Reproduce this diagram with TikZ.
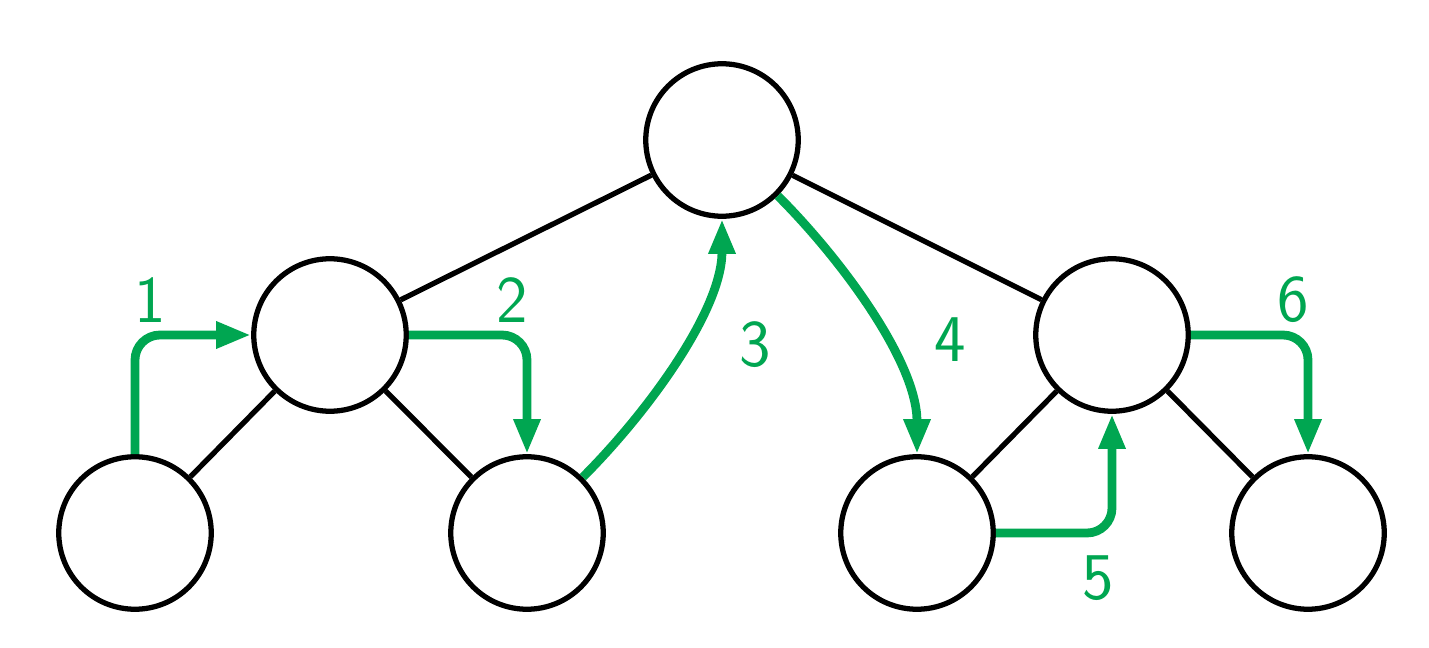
\documentclass[tikz,border=0pt]{standalone}
\usetikzlibrary{arrows.meta}
\definecolor{grn}{RGB}{0,166,81}
\begin{document}
\begin{tikzpicture}[x=0.02cm,y=-0.02cm,
  vtx/.style={circle,draw=black,line width=3pt,minimum size=3.05cm,inner sep=0pt},
  edge/.style={line width=3pt},
  walk/.style={draw=grn,line width=5pt,rounded corners=0.5cm,-{Triangle[length=0.7cm,width=0.5cm]}},
  lab/.style={text=grn,font=\sffamily\fontsize{38}{38}\selectfont}]
\useasboundingbox (0,0) rectangle (1429,648);
\node[vtx] (root) at (722,140) {};
\node[vtx] (L) at (330,335) {};
\node[vtx] (R) at (1112,335) {};
\node[vtx] (LL) at (135,533) {};
\node[vtx] (LR) at (527,533) {};
\node[vtx] (RL) at (917,533) {};
\node[vtx] (RR) at (1308,533) {};
\draw[edge] (root) -- (L);
\draw[edge] (root) -- (R);
\draw[edge] (L) -- (LL);
\draw[edge] (L) -- (LR);
\draw[edge] (R) -- (RL);
\draw[edge] (R) -- (RR);
\draw[walk] (LL.north) |- (L.west);
\draw[walk] (L.east) -| (LR.north);
\draw[walk] (LR.north east) to[out=45,in=-90,looseness=0.8] (root.south);
\draw[walk] (root.south east) to[out=-45,in=90,looseness=0.8] (RL.north);
\draw[walk] (RL.east) -| (R.south);
\draw[walk] (R.east) -| (RR.north);
\node[lab] (n1) at (150,300) {1};
\node[lab] (n2) at (512,300) {2};
\node[lab] (n3) at (755,345) {3};
\node[lab] (n4) at (950,340) {4};
\node[lab] (n5) at (1098,578) {5};
\node[lab] (n6) at (1293,300) {6};
\end{tikzpicture}
\end{document}
